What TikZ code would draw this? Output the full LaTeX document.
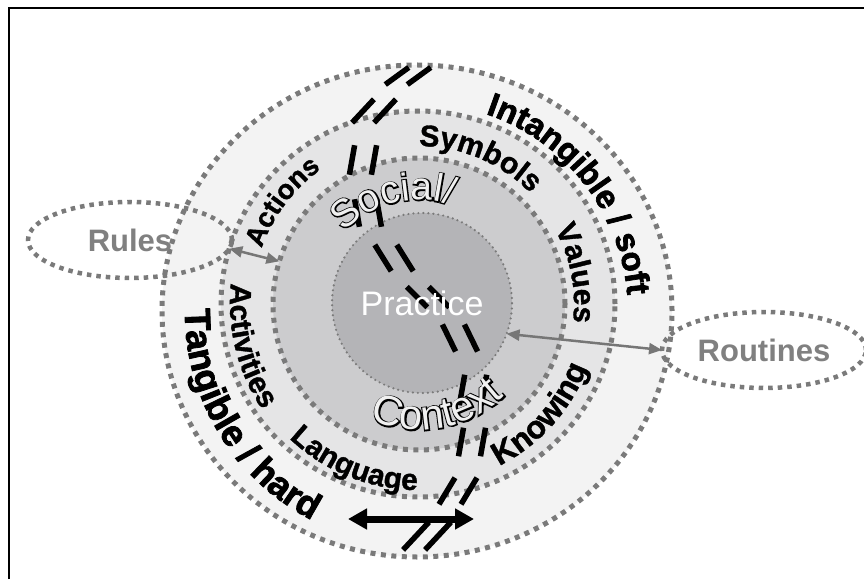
\documentclass[tikz,border=0pt]{standalone}
\usepackage{fontspec}
\setmainfont{Liberation Sans}
\newfontfamily\heavyfont[BoldFeatures={FakeBold=2.2}]{Liberation Sans}
\newfontfamily\midfont[BoldFeatures={FakeBold=1.2}]{Liberation Sans}
\newfontfamily\rimfont[FakeBold=6]{Liberation Sans}
\usetikzlibrary{arrows.meta,shapes.geometric,decorations.text}

\definecolor{dotgray}{HTML}{7A7A7A}
\definecolor{outerfill}{HTML}{F3F3F3}
\definecolor{midfill}{HTML}{E5E5E6}
\definecolor{innerfill}{HTML}{CCCCCE}
\definecolor{corefill}{HTML}{B4B4B7}
\definecolor{holefill}{HTML}{F0F0F0}
\definecolor{labelgray}{HTML}{808080}
\definecolor{arrowgray}{HTML}{767676}

\newcommand\outerstyle{\heavyfont\bfseries\fontsize{33}{33}\selectfont}
\newcommand\lowerstyle{\heavyfont\bfseries\fontsize{36.5}{36.5}\selectfont}
\newcommand\ringstyle{\midfont\bfseries\fontsize{30}{30}\selectfont}
\newcommand\actstyle{\midfont\bfseries\fontsize{27.5}{27.5}\selectfont}
\newcommand\knowstyle{\midfont\bfseries\fontsize{32}{32}\selectfont}
\newcommand\rimstyle{\rimfont\fontsize{39}{39}\selectfont}
\newcommand\holestyle{\color{holefill}\fontsize{39}{39}\selectfont}
\newcommand\rimlowstyle{\rimfont\fontsize{42}{42}\selectfont}
\newcommand\holelowstyle{\color{holefill}\fontsize{42}{42}\selectfont}

\tikzset{
  squaredots/.style={draw=dotgray, line width=5pt, dash pattern=on 5pt off 5.5pt},
  finedots/.style={draw=dotgray, line width=2.4pt, line cap=round, dash pattern=on 0pt off 5pt},
  breakline/.style={black, line width=5.5pt},
  grayarrow/.style={arrowgray, line width=2.5pt, {Triangle[length=13pt,width=11pt]}-{Triangle[length=13pt,width=11pt]}},
  swingarrow/.style={black, line width=7pt, {Triangle[length=19pt,width=20pt]}-{Triangle[length=19pt,width=20pt]}},
  sidelabel/.style={ellipse, draw=dotgray, line width=4.5pt, dash pattern=on 4.5pt off 5pt,
    minimum width=204pt, minimum height=76pt, inner sep=0pt, outer sep=0pt,
    text=labelgray, font=\bfseries\fontsize{31}{31}\selectfont},
}

\begin{document}
\begin{tikzpicture}[x=1pt,y=1pt]
\useasboundingbox (0,0) rectangle (864,579);
% frame
\draw[line width=2pt] (9,0) -- (9,571) -- (864,571);

% rings
\filldraw[fill=outerfill, squaredots] (417,268) ellipse [x radius=255, y radius=246];
\filldraw[fill=midfill, squaredots] (418,275) ellipse [x radius=197, y radius=193];
\node[circle, fill=innerfill, squaredots, minimum size=292pt, inner sep=0pt, outer sep=0pt] (ring3) at (419,275) {};
\node[circle, fill=corefill, finedots, minimum size=180pt, inner sep=0pt, outer sep=0pt] (core) at (422,276) {};

% outside labels
\node[sidelabel] (rules) at (130,339) {Rules};
\node[sidelabel] (routines) at (764,229) {Routines};

\draw[grayarrow] (rules.-5) -- (ring3.163);
\draw[grayarrow] (core.-20) -- (routines.west);

% break marks
\foreach \bx/\by/\ba/\bl in {408/503/36/29, 374/468/47/32, 363/419/80/30, 368/366/100/28,
    394/321/122/31, 428/282/135/29, 460/241/116/30, 473/189/80/31, 472/137/80/29,
    458/88/59/31, 427/43/47/38}
  \foreach \side in {-1,1}
    \draw[breakline, shift={(\bx+11*\side,\by)}, rotate=\ba] (-\bl/2,0) -- (\bl/2,0);

\coordinate (swingL) at (348,60);
\coordinate (swingR) at (474,60);
\draw[swingarrow] (swingL) -- (swingR);

% ring texts
\path[decorate, decoration={text along path, text align=center, text={|\outerstyle|Intangible / soft}}]
  (419,267) ++(128:209) arc[start angle=128, end angle=-52, radius=209];
\path[decorate, decoration={text along path, text align=center, text={|\lowerstyle|Tangible / hard}}]
  (419,267) ++(121:234) arc[start angle=121, end angle=301, radius=234];
\path[decorate, decoration={text along path, text align=center, text={|\actstyle|Actions}}]
  (418,275) ++(203:166) arc[start angle=203, end angle=83, radius=166];
\path[decorate, decoration={text along path, text align=center, text={|\ringstyle|Symbols}}]
  (418,275) ++(127:158) arc[start angle=127, end angle=7, radius=158];
\path[decorate, decoration={text along path, text align=center, text={|\ringstyle|Values}}]
  (418,275) ++(71:156) arc[start angle=71, end angle=-49, radius=156];
\path[decorate, decoration={text along path, text align=center, text={|\ringstyle|Activities}}]
  (418,275) ++(134:188) arc[start angle=134, end angle=254, radius=188];
\path[decorate, decoration={text along path, text align=center, text={|\ringstyle|Language}}]
  (418,275) ++(188:186) arc[start angle=188, end angle=308, radius=186];
\path[decorate, decoration={text along path, text align=center, text={|\knowstyle|Knowing}}]
  (418,275) ++(258:181) arc[start angle=258, end angle=378, radius=181];

% outlined words
\path[decorate, decoration={text along path, text align=center, text={|\rimstyle|Social/}}]
  (419,275) ++(194:104) arc[start angle=194, end angle=14, radius=104];
\path[decorate, decoration={text along path, text align=center, text={|\holestyle|Social/}}]
  (419,275) ++(194:104) arc[start angle=194, end angle=14, radius=104];
\path[decorate, decoration={text along path, text align=center, text={|\rimlowstyle|Context}}]
  (419,275) ++(200:126) arc[start angle=200, end angle=360, radius=126];
\path[decorate, decoration={text along path, text align=center, text={|\holelowstyle|Context}}]
  (419,275) ++(200:126) arc[start angle=200, end angle=360, radius=126];

\node[text=white, font=\fontsize{34}{34}\selectfont] (practice) at (core) {Practice};
\end{tikzpicture}
\end{document}
